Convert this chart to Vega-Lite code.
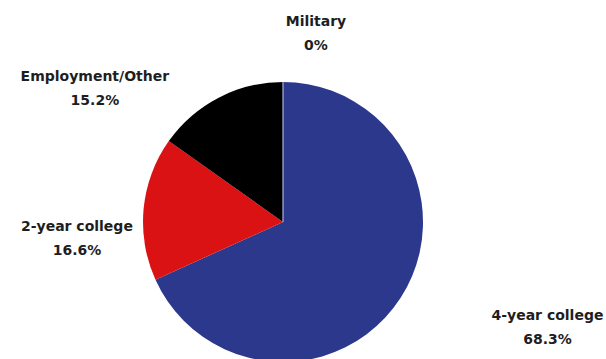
{
  "$schema": "https://vega.github.io/schema/vega-lite/v6.json",
  "width": 566,
  "height": 444,
  "autosize": "none",
  "padding": {"left": 0, "top": 0, "right": 40, "bottom": 0},
  "background": "white",
  "config": {"view": {"stroke": null}},
  "data": {
    "values": [
      {"category": "4-year college", "value": 68.3, "ord": 1, "label": "4-year college\n68.3%"},
      {"category": "2-year college", "value": 16.6, "ord": 2, "label": "2-year college\n16.6%"},
      {"category": "Employment/Other", "value": 15.2, "ord": 3, "label": "Employment/Other\n15.2%"},
      {"category": "Military", "value": 0, "ord": 4, "label": "Military\n0%"}
    ]
  },
  "transform": [
    {"stack": "value", "groupby": [], "sort": [{"field": "ord"}], "as": ["v0", "v1"]},
    {"calculate": "(datum.v0 + datum.v1) / 2", "as": "mid"}
  ],
  "layer": [
    {
      "mark": {"type": "arc", "outerRadius": 140, "strokeWidth": 1.2},
      "encoding": {
        "theta": {"field": "v0", "type": "quantitative", "scale": {"domain": [0, 100.1]}},
        "theta2": {"field": "v1"},
        "stroke": {"condition": {"test": "datum.category == 'Military'", "value": "#aab2e0"}, "value": null},
        "color": {
          "field": "category",
          "type": "nominal",
          "scale": {
            "domain": ["4-year college", "2-year college", "Employment/Other", "Military"],
            "range": ["#2b388c", "#da1213", "#000000", "#5b9a3a"]
          },
          "legend": null
        }
      }
    },
    {
      "transform": [{"filter": "datum.category == '4-year college'"}],
      "mark": {"type": "text", "radius": 279, "dx": 30, "dy": -57, "lineBreak": "\n", "font": "DejaVu Sans", "fontSize": 14, "fontWeight": "bold", "color": "#1e1e1e", "align": "center", "baseline": "middle", "lineHeight": 24},
      "encoding": {
        "theta": {"field": "mid", "type": "quantitative"},
        "text": {"field": "label"}
      }
    },
    {
      "transform": [{"filter": "datum.category == '2-year college'"}],
      "mark": {"type": "text", "radius": 203, "dx": -4, "dy": 24, "lineBreak": "\n", "font": "DejaVu Sans", "fontSize": 14, "fontWeight": "bold", "color": "#1e1e1e", "align": "center", "baseline": "middle", "lineHeight": 24},
      "encoding": {
        "theta": {"field": "mid", "type": "quantitative"},
        "text": {"field": "label"}
      }
    },
    {
      "transform": [{"filter": "datum.category == 'Employment/Other'"}],
      "mark": {"type": "text", "radius": 205, "dx": -94, "dy": 37, "lineBreak": "\n", "font": "DejaVu Sans", "fontSize": 14, "fontWeight": "bold", "color": "#1e1e1e", "align": "center", "baseline": "middle", "lineHeight": 24},
      "encoding": {
        "theta": {"field": "mid", "type": "quantitative"},
        "text": {"field": "label"}
      }
    },
    {
      "transform": [{"filter": "datum.category == 'Military'"}],
      "mark": {"type": "text", "radius": 189, "dx": 33, "dy": -11, "lineBreak": "\n", "font": "DejaVu Sans", "fontSize": 14, "fontWeight": "bold", "color": "#1e1e1e", "align": "center", "baseline": "middle", "lineHeight": 24},
      "encoding": {
        "theta": {"field": "mid", "type": "quantitative"},
        "text": {"field": "label"}
      }
    }
  ]
}
